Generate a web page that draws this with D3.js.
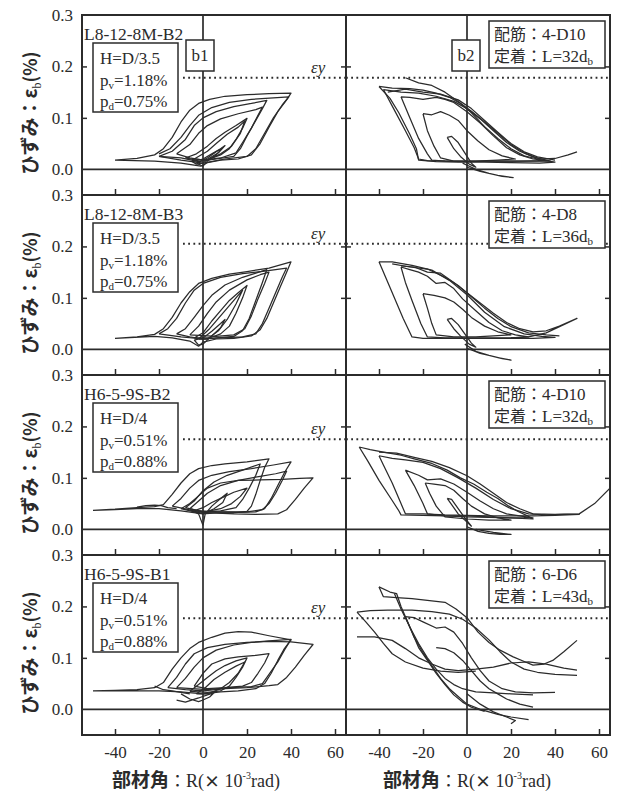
<!DOCTYPE html>
<html>
<head>
<meta charset="utf-8">
<script src="https://cdn.jsdelivr.net/npm/d3@7"></script>
<style>
  body { margin: 0; background: #fff; }
  svg { display: block; }
</style>
</head>
<body>
<svg id="chart" width="622" height="800"></svg>
<script>
// ---- specimen information (one entry per row) ----
const specimens = ["L8-12-8M-B2", "L8-12-8M-B3", "H6-5-9S-B2", "H6-5-9S-B1"];
const heightRatio = ["H=D/3.5", "H=D/3.5", "H=D/4", "H=D/4"];
const pvRatio = ["1.18%", "1.18%", "0.51%", "0.51%"];
const pdRatio = ["0.75%", "0.75%", "0.88%", "0.88%"];
const rebar = ["4-D10", "4-D8", "4-D10", "6-D6"];
const anchorLength = ["32", "36", "32", "43"];
const yieldStrain = [0.178, 0.205, 0.175, 0.177];   // εy (%)
const gaugeNames = ["b1", "b2"];
const xTicks = [-40, -20, 0, 20, 40, 60];
const yTicks = [0.0, 0.1, 0.2, 0.3];
const xDomain = [-55, 65];
const yDomain = [-0.05, 0.3];

// ---- strain histories: [R (x10^-3 rad), strain (%)] ----
const l8B2_b1 = [
  [[-40,0.018],[-30,0.021],[-22,0.028],[-18,0.040],[-14,0.062],[-10,0.092],[-6,0.115],[-2,0.128],[3,0.136],[10,0.142],[20,0.145],[30,0.147],[40,0.148],[38,0.135],[34,0.112],[30,0.082],[26,0.050],[22,0.028],[16,0.020],[8,0.018],[2,0.013],[-1,0.006],[-10,0.012],[-22,0.016],[-40,0.018]],
  [[-20,0.030],[-15,0.040],[-10,0.062],[-6,0.085],[-2,0.105],[4,0.120],[12,0.130],[22,0.136],[32,0.139],[39,0.141],[36,0.125],[32,0.100],[28,0.070],[24,0.040],[20,0.025],[10,0.020],[0,0.012],[-10,0.018],[-20,0.025]],
  [[-20,0.025],[-14,0.035],[-8,0.058],[-4,0.085],[0,0.100],[6,0.112],[14,0.122],[22,0.128],[29,0.134],[27,0.118],[24,0.095],[20,0.065],[17,0.040],[14,0.025],[6,0.020],[-2,0.015],[-10,0.022],[-20,0.025]],
  [[-12,0.030],[-6,0.048],[-2,0.070],[2,0.085],[8,0.098],[16,0.108],[24,0.116],[27,0.121],[25,0.105],[22,0.080],[18,0.052],[15,0.032],[8,0.022],[0,0.018],[-6,0.022],[-12,0.030]],
  [[-8,0.022],[-3,0.030],[2,0.045],[6,0.060],[10,0.072],[15,0.085],[20,0.099],[18,0.080],[15,0.058],[12,0.040],[8,0.028],[3,0.020],[-3,0.018],[-8,0.022]],
  [[-4,0.020],[2,0.035],[6,0.050],[11,0.068],[16,0.082],[19,0.094],[17,0.070],[13,0.045],[8,0.030],[2,0.018],[-4,0.020]],
  [[-5,0.015],[0,0.020],[4,0.030],[8,0.040],[10,0.046],[7,0.032],[3,0.022],[0,0.012],[-3,0.010],[-5,0.015]],
  [[-3,0.012],[2,0.022],[6,0.034],[9,0.042],[6,0.028],[2,0.016],[0,0.006],[-3,0.012]]
];
const l8B2_b2 = [
  [[-40,0.161],[-34,0.158],[-26,0.157],[-20,0.154],[-14,0.148],[-8,0.140],[-3,0.128],[2,0.110],[8,0.083],[14,0.060],[20,0.040],[26,0.026],[33,0.019],[40,0.014],[33,0.012],[20,0.013],[8,0.014],[-4,0.014],[-14,0.015],[-22,0.018],[-23,0.040],[-26,0.068],[-31,0.110],[-35,0.138],[-40,0.161]],
  [[-28,0.178],[-22,0.168],[-16,0.163],[-10,0.150],[-4,0.132],[2,0.113],[8,0.092],[14,0.070],[20,0.048],[26,0.032],[33,0.020],[40,0.021],[46,0.028],[50,0.034]],
  [[-38,0.155],[-30,0.150],[-22,0.148],[-14,0.142],[-6,0.132],[0,0.118],[6,0.098],[12,0.075],[18,0.052],[24,0.035],[30,0.024],[38,0.016],[30,0.016],[18,0.016],[6,0.016],[-6,0.016],[-18,0.017],[-22,0.020],[-24,0.042],[-28,0.075],[-33,0.115],[-38,0.155]],
  [[-36,0.150],[-28,0.156],[-20,0.150],[-12,0.146],[-4,0.135],[2,0.118],[8,0.095],[14,0.072],[20,0.050],[26,0.034],[32,0.024],[40,0.018]],
  [[-30,0.141],[-26,0.140],[-20,0.136],[-14,0.140],[-10,0.136],[-6,0.130],[0,0.112],[6,0.090],[12,0.065],[18,0.042],[24,0.028],[30,0.020],[36,0.017],[24,0.016],[10,0.016],[0,0.015],[-10,0.016],[-16,0.018],[-18,0.030],[-22,0.060],[-26,0.100],[-30,0.141]],
  [[-20,0.108],[-16,0.106],[-12,0.112],[-8,0.105],[-4,0.095],[0,0.075],[5,0.055],[10,0.038],[16,0.026],[22,0.020],[14,0.018],[4,0.016],[-6,0.016],[-12,0.022],[-15,0.045],[-18,0.075],[-20,0.108]],
  [[-9,0.062],[-7,0.064],[-4,0.052],[-1,0.032],[2,0.012],[4,0.004],[1,0.010],[-3,0.025],[-6,0.040],[-9,0.062]],
  [[-2,0.012],[4,0.000],[10,-0.008],[16,-0.014],[21,-0.016],[14,-0.012],[6,-0.004],[0,0.004]]
];
const l8B3_b1 = [
  [[-40,0.021],[-30,0.024],[-22,0.029],[-18,0.040],[-14,0.062],[-10,0.090],[-6,0.112],[-2,0.128],[4,0.138],[12,0.146],[20,0.151],[30,0.158],[36,0.165],[40,0.170],[38,0.150],[35,0.120],[32,0.090],[29,0.060],[26,0.038],[22,0.026],[14,0.021],[6,0.020],[0,0.014],[-2,0.006],[-6,0.016],[-14,0.022],[-22,0.025],[-40,0.021]],
  [[-20,0.030],[-16,0.040],[-12,0.060],[-8,0.090],[-4,0.115],[0,0.128],[8,0.140],[18,0.147],[28,0.152],[38,0.158],[36,0.140],[33,0.110],[30,0.080],[27,0.050],[24,0.030],[18,0.024],[8,0.022],[0,0.020],[-10,0.024],[-20,0.030]],
  [[-12,0.030],[-8,0.040],[-4,0.062],[0,0.085],[4,0.105],[10,0.125],[18,0.140],[24,0.148],[29,0.155],[27,0.130],[24,0.095],[21,0.060],[18,0.036],[14,0.025],[6,0.022],[0,0.020],[-6,0.024],[-12,0.030]],
  [[-6,0.028],[-2,0.045],[2,0.070],[6,0.092],[12,0.115],[20,0.135],[26,0.145],[30,0.150],[28,0.128],[25,0.098],[22,0.065],[19,0.040],[14,0.028],[6,0.025],[-6,0.028]],
  [[-4,0.022],[0,0.032],[4,0.055],[8,0.075],[12,0.095],[16,0.110],[20,0.124],[18,0.100],[15,0.070],[12,0.045],[8,0.030],[3,0.022],[-4,0.022]],
  [[-2,0.020],[3,0.040],[7,0.060],[11,0.080],[15,0.100],[18,0.115],[15,0.088],[11,0.058],[7,0.036],[2,0.020],[-2,0.020]],
  [[-4,0.018],[0,0.022],[4,0.035],[8,0.050],[10,0.058],[8,0.042],[4,0.026],[0,0.010],[-2,0.008],[-4,0.018]]
];
const l8B3_b2 = [
  [[-40,0.170],[-34,0.170],[-25,0.163],[-16,0.154],[-8,0.134],[0,0.106],[8,0.072],[17,0.044],[26,0.030],[34,0.025],[40,0.023],[30,0.021],[20,0.021],[10,0.021],[0,0.021],[-10,0.021],[-20,0.021],[-25,0.024],[-29,0.060],[-35,0.120],[-40,0.170]],
  [[-30,0.162],[-24,0.160],[-18,0.150],[-12,0.148],[-6,0.130],[0,0.110],[6,0.090],[12,0.070],[18,0.052],[24,0.040],[30,0.034],[36,0.036],[42,0.045],[50,0.060],[44,0.048],[36,0.032],[28,0.024],[20,0.022]],
  [[-34,0.166],[-26,0.160],[-18,0.156],[-10,0.140],[-4,0.124],[2,0.102],[8,0.080],[14,0.060],[20,0.044],[28,0.032],[36,0.028],[42,0.026]],
  [[-30,0.160],[-26,0.155],[-22,0.150],[-18,0.142],[-14,0.128],[-10,0.130],[-6,0.118],[-2,0.098],[4,0.075],[10,0.052],[16,0.036],[22,0.028],[28,0.024],[20,0.022],[10,0.022],[0,0.022],[-10,0.022],[-18,0.024],[-21,0.050],[-25,0.095],[-28,0.130],[-30,0.160]],
  [[-20,0.108],[-15,0.105],[-10,0.100],[-6,0.092],[-2,0.078],[2,0.062],[8,0.045],[14,0.034],[20,0.028],[12,0.026],[4,0.024],[-6,0.024],[-14,0.028],[-16,0.050],[-18,0.080],[-20,0.108]],
  [[-9,0.058],[-7,0.060],[-4,0.048],[-1,0.030],[2,0.012],[4,0.004],[1,0.010],[-3,0.026],[-6,0.040],[-9,0.058]],
  [[-1,0.010],[4,-0.004],[10,-0.012],[16,-0.018],[20,-0.021],[14,-0.016],[6,-0.008],[0,0.002]]
];
const h6B2_b1 = [
  [[-50,0.037],[-40,0.039],[-30,0.042],[-22,0.044],[-18,0.048],[-14,0.068],[-10,0.090],[-6,0.108],[-2,0.118],[4,0.124],[10,0.127],[20,0.131],[30,0.137],[28,0.120],[26,0.095],[24,0.068],[22,0.045],[20,0.035],[14,0.032],[6,0.032],[0,0.030],[-10,0.036],[-20,0.040],[-30,0.040],[-40,0.038],[-50,0.037]],
  [[-10,0.040],[-6,0.050],[-2,0.065],[2,0.080],[8,0.090],[16,0.095],[26,0.096],[36,0.097],[44,0.099],[50,0.100],[46,0.080],[42,0.058],[38,0.038],[34,0.030],[24,0.029],[14,0.030],[4,0.032],[-4,0.034],[-10,0.040]],
  [[-14,0.045],[-10,0.060],[-6,0.080],[-2,0.095],[4,0.105],[12,0.112],[22,0.118],[32,0.125],[40,0.131],[37,0.110],[34,0.085],[31,0.060],[28,0.040],[24,0.034],[16,0.033],[6,0.034],[-4,0.036],[-14,0.045]],
  [[-6,0.040],[-2,0.055],[2,0.070],[8,0.085],[16,0.095],[26,0.103],[33,0.108],[38,0.113],[36,0.095],[33,0.070],[30,0.050],[27,0.038],[20,0.034],[10,0.034],[0,0.034],[-6,0.040]],
  [[-8,0.042],[-4,0.055],[0,0.075],[5,0.092],[11,0.105],[18,0.115],[26,0.127],[24,0.105],[21,0.080],[18,0.058],[15,0.042],[8,0.036],[0,0.034],[-8,0.042]],
  [[-4,0.036],[0,0.042],[4,0.052],[9,0.062],[14,0.072],[20,0.080],[17,0.064],[13,0.050],[8,0.040],[2,0.035],[-4,0.036]],
  [[-6,0.038],[-2,0.030],[0,0.008],[1,0.030],[4,0.045],[8,0.060],[11,0.070],[9,0.052],[5,0.040],[0,0.030],[-6,0.038]],
  [[-30,0.043],[-26,0.046],[-22,0.047],[-19,0.046],[-16,0.042],[-12,0.040]]
];
const h6B2_b2 = [
  [[-49,0.160],[-44,0.155],[-38,0.150],[-30,0.144],[-24,0.137],[-16,0.128],[-9,0.115],[-3,0.100],[3,0.088],[9,0.072],[14,0.060],[19,0.045],[23,0.035],[28,0.025],[30,0.020],[20,0.022],[10,0.024],[0,0.026],[-10,0.026],[-20,0.027],[-30,0.028],[-31,0.036],[-34,0.056],[-40,0.095],[-45,0.132],[-49,0.160]],
  [[-40,0.150],[-32,0.148],[-24,0.140],[-16,0.132],[-8,0.120],[0,0.104],[6,0.088],[12,0.070],[18,0.052],[24,0.040],[30,0.030],[40,0.029],[51,0.030],[58,0.050],[65,0.080]],
  [[-40,0.143],[-34,0.138],[-28,0.135],[-20,0.130],[-12,0.118],[-4,0.100],[4,0.080],[12,0.058],[20,0.040],[28,0.030],[36,0.028],[44,0.029],[51,0.029],[40,0.027],[30,0.026],[20,0.026],[10,0.026],[0,0.027],[-10,0.028],[-20,0.030],[-28,0.030],[-30,0.050],[-34,0.090],[-38,0.125],[-40,0.143]],
  [[-28,0.115],[-22,0.105],[-18,0.096],[-12,0.098],[-6,0.088],[0,0.072],[6,0.055],[12,0.040],[18,0.030],[24,0.026],[30,0.022],[20,0.022],[10,0.023],[0,0.024],[-10,0.026],[-18,0.030],[-20,0.050],[-24,0.085],[-28,0.115]],
  [[-19,0.090],[-15,0.088],[-10,0.085],[-6,0.076],[-2,0.060],[2,0.045],[8,0.030],[14,0.022],[20,0.018],[10,0.018],[0,0.020],[-10,0.024],[-14,0.045],[-17,0.070],[-19,0.090]],
  [[-9,0.060],[-7,0.058],[-4,0.040],[-1,0.022],[2,0.006],[0,0.014],[-4,0.030],[-9,0.060]],
  [[0,0.005],[5,-0.004],[10,-0.008],[15,-0.010],[20,-0.010],[12,-0.006],[4,0.000]]
];
const h6B1_b1 = [
  [[-50,0.036],[-40,0.037],[-30,0.038],[-22,0.042],[-18,0.052],[-14,0.078],[-10,0.100],[-6,0.118],[-2,0.130],[4,0.140],[10,0.148],[16,0.151],[22,0.150],[30,0.143],[40,0.135],[37,0.118],[34,0.095],[31,0.070],[28,0.050],[24,0.040],[16,0.036],[8,0.034],[0,0.030],[-10,0.034],[-20,0.036],[-30,0.036],[-50,0.036]],
  [[-16,0.042],[-12,0.062],[-8,0.088],[-4,0.108],[2,0.120],[10,0.126],[20,0.130],[30,0.132],[40,0.131],[50,0.126],[46,0.105],[42,0.082],[38,0.062],[34,0.048],[30,0.046],[20,0.042],[10,0.040],[0,0.036],[-8,0.038],[-16,0.042]],
  [[-12,0.042],[-8,0.060],[-4,0.082],[0,0.100],[6,0.115],[14,0.125],[22,0.130],[30,0.133],[40,0.136],[37,0.115],[34,0.092],[30,0.068],[27,0.050],[22,0.044],[12,0.042],[2,0.038],[-12,0.042]],
  [[-4,0.045],[0,0.070],[4,0.088],[10,0.098],[16,0.102],[24,0.105],[30,0.108],[28,0.090],[25,0.070],[22,0.052],[18,0.045],[10,0.042],[2,0.040],[-4,0.045]],
  [[-6,0.035],[-2,0.048],[2,0.062],[6,0.075],[10,0.085],[15,0.094],[20,0.100],[18,0.082],[15,0.062],[12,0.045],[8,0.036],[2,0.033],[-6,0.035]],
  [[-3,0.030],[1,0.042],[5,0.058],[10,0.072],[15,0.084],[19,0.092],[16,0.070],[12,0.052],[8,0.040],[2,0.030],[-3,0.030]],
  [[-10,0.030],[-6,0.020],[-2,0.015],[0,0.018],[3,0.024],[5,0.032],[2,0.028],[-2,0.022],[-8,0.014],[-12,0.018]],
  [[-22,0.045],[-18,0.038],[-14,0.036],[-10,0.033],[-6,0.030]]
];
const h6B1_b2 = [
  [[-40,0.238],[-35,0.228],[-32,0.225],[-30,0.200],[-27,0.170],[-24,0.140],[-20,0.110],[-16,0.085],[-12,0.060],[-8,0.040],[-4,0.025],[0,0.010],[6,0.000],[14,-0.010],[20,-0.015],[28,-0.020]],
  [[-40,0.238],[-38,0.219],[-32,0.217],[-25,0.215],[-18,0.212],[-10,0.208],[-5,0.195],[0,0.178],[5,0.150],[10,0.130],[15,0.115],[21,0.102],[26,0.093],[30,0.086],[35,0.088],[39,0.095],[44,0.112],[50,0.134]],
  [[-50,0.189],[-44,0.192],[-36,0.193],[-25,0.193],[-16,0.190],[-8,0.185],[-2,0.175],[4,0.158],[10,0.135],[15,0.112],[20,0.092],[26,0.078],[32,0.072],[40,0.068],[50,0.066]],
  [[-50,0.141],[-42,0.141],[-34,0.134],[-28,0.118],[-22,0.100],[-16,0.088],[-10,0.078],[-4,0.075],[4,0.078],[12,0.082],[20,0.090],[28,0.092],[36,0.088],[44,0.080],[50,0.076]],
  [[-50,0.189],[-46,0.170],[-42,0.150],[-38,0.128],[-34,0.108],[-28,0.092],[-20,0.080],[-12,0.074],[-4,0.072],[4,0.074]],
  [[-33,0.225],[-30,0.195],[-26,0.160],[-22,0.128],[-18,0.100],[-14,0.078],[-10,0.060],[-6,0.048],[-2,0.040],[4,0.034],[12,0.032],[20,0.030],[30,0.028]],
  [[-28,0.180],[-24,0.178],[-20,0.170],[-14,0.158],[-10,0.160],[-6,0.150],[-2,0.128],[2,0.100],[6,0.075],[10,0.055],[16,0.040],[22,0.034],[30,0.032],[40,0.033]],
  [[-28,0.180],[-25,0.150],[-22,0.120],[-18,0.095],[-14,0.070],[-10,0.048],[-6,0.028],[-2,0.014],[2,0.004],[8,-0.004]],
  [[-14,0.120],[-10,0.118],[-6,0.110],[-2,0.095],[2,0.075],[6,0.055],[10,0.040],[14,0.030],[18,0.020],[24,0.010],[30,0.004]],
  [[0,0.030],[6,0.010],[12,-0.005],[18,-0.015],[22,-0.022],[20,-0.028]]
];

const loops = [
  [l8B2_b1, l8B2_b2],
  [l8B3_b1, l8B3_b2],
  [h6B2_b1, h6B2_b2],
  [h6B1_b1, h6B1_b2]
];

// ---- drawing ----
const svg = d3.select("#chart");
const ink = "#2b2b2b";
const serif = "'Liberation Serif','Times New Roman',serif";
const cjk = "'Noto Sans CJK JP','Noto Sans',sans-serif";

const frameLeft = 82, panelW = 264, frameTop = 15, rowH = 180;
const nRows = specimens.length;

const defs = svg.append("defs");

function styleAxis(g) {
  g.select(".domain").remove();
  g.selectAll(".tick line").attr("stroke", ink).attr("stroke-width", 1.5);
  g.selectAll(".tick text").attr("fill", ink).attr("font-family", serif).attr("font-size", 17);
}

for (let r = 0; r < nRows; r++) {
  const top = frameTop + r * rowH;
  const y = d3.scaleLinear().domain(yDomain).range([top + rowH, top]);
  const row = svg.append("g").attr("class", "row");

  const boxRight = frameLeft + 11 + 85;   // right edge of the parameter box

  for (let c = 0; c < 2; c++) {
    const x0 = frameLeft + c * panelW;
    const x = d3.scaleLinear().domain(xDomain).range([x0, x0 + panelW]);
    const clipId = `clip-${r}-${c}`;
    defs.append("clipPath").attr("id", clipId)
      .append("rect").attr("x", x0).attr("y", top).attr("width", panelW).attr("height", rowH);

    const panel = row.append("g");

    // strain histories
    const line = d3.line().x(d => x(d[0])).y(d => y(d[1]));
    panel.append("g").attr("clip-path", `url(#${clipId})`)
      .selectAll("path").data(loops[r][c]).join("path")
      .attr("d", line)
      .attr("fill", "none")
      .attr("stroke", ink)
      .attr("stroke-width", 1.25)
      .attr("stroke-linejoin", "round");

    // zero reference lines
    panel.append("line")
      .attr("x1", x0).attr("x2", x0 + panelW)
      .attr("y1", y(0)).attr("y2", y(0))
      .attr("stroke", ink).attr("stroke-width", 1.7);
    panel.append("line")
      .attr("x1", x(0)).attr("x2", x(0))
      .attr("y1", top).attr("y2", top + rowH)
      .attr("stroke", ink).attr("stroke-width", 1.7);

    // yield strain
    panel.append("line")
      .attr("x1", c === 0 ? boxRight + 5 : x0).attr("x2", x0 + panelW)
      .attr("y1", y(yieldStrain[r])).attr("y2", y(yieldStrain[r]))
      .attr("stroke", ink).attr("stroke-width", 2)
      .attr("stroke-dasharray", "1.8,3.4");

    // inward ticks
    panel.append("g").attr("transform", `translate(0,${top + rowH})`)
      .call(d3.axisBottom(x).tickValues(xTicks.filter(v => v !== 0)).tickSize(-6).tickFormat(""))
      .call(styleAxis);
    panel.append("g").attr("transform", `translate(${x0},0)`)
      .call(d3.axisLeft(y).tickValues(yTicks.filter(v => v > 0 && v < 0.3)).tickSize(-5).tickFormat(""))
      .call(styleAxis);
    panel.append("g").attr("transform", `translate(${x0 + panelW},0)`)
      .call(d3.axisRight(y).tickValues(yTicks.filter(v => v > 0 && v < 0.3)).tickSize(-5).tickFormat(""))
      .call(styleAxis);

    // x tick labels on the bottom row
    if (r === nRows - 1) {
      panel.append("g").attr("transform", `translate(0,${top + rowH})`)
        .call(d3.axisBottom(x).tickValues(xTicks).tickSize(0).tickPadding(11).tickFormat(d => String(d)))
        .call(styleAxis);
    }

    // gauge tag on the first row
    if (r === 0) {
      const tx = c === 0 ? x(0) - 17 : x(0) - 15;
      const tag = panel.append("g").attr("transform", `translate(${tx},${top + 25})`);
      tag.append("rect").attr("width", 28).attr("height", 31)
        .attr("fill", "#fff").attr("stroke", ink).attr("stroke-width", 1.5);
      tag.append("text").attr("x", 14).attr("y", 21).attr("text-anchor", "middle")
        .attr("font-family", serif).attr("font-size", 17).attr("fill", ink)
        .text(gaugeNames[c]);
    }
  }

  // y tick labels
  svg.append("g").attr("transform", `translate(${frameLeft},0)`)
    .call(d3.axisLeft(y).tickValues(yTicks).tickSize(0).tickPadding(9).tickFormat(d3.format(".1f")))
    .call(styleAxis);

  // εy label
  svg.append("text").attr("x", 311).attr("y", y(yieldStrain[r]) - 5)
    .attr("font-family", serif).attr("font-style", "italic").attr("font-size", 17).attr("fill", ink)
    .text("εy");

  // specimen name
  svg.append("text").attr("x", 84).attr("y", top + 25)
    .attr("font-family", serif).attr("font-size", 17.5).attr("fill", ink)
    .text(specimens[r]);

  // parameter box
  const pb = svg.append("g").attr("transform", `translate(${frameLeft + 11},${top + 28})`);
  pb.append("rect").attr("width", 85).attr("height", 69)
    .attr("fill", "#fff").attr("stroke", ink).attr("stroke-width", 1.5);
  pb.append("text").attr("x", 7).attr("y", 21)
    .attr("font-family", serif).attr("font-size", 17).attr("fill", ink).text(heightRatio[r]);
  const t2 = pb.append("text").attr("x", 7).attr("y", 43)
    .attr("font-family", serif).attr("font-size", 17).attr("fill", ink);
  t2.append("tspan").text("p");
  t2.append("tspan").attr("font-size", 11).attr("dy", 3).text("v");
  t2.append("tspan").attr("dy", -3).text("=" + pvRatio[r]);
  const t3 = pb.append("text").attr("x", 7).attr("y", 64)
    .attr("font-family", serif).attr("font-size", 17).attr("fill", ink);
  t3.append("tspan").text("p");
  t3.append("tspan").attr("font-size", 11).attr("dy", 3).text("d");
  t3.append("tspan").attr("dy", -3).text("=" + pdRatio[r]);

  // reinforcement box
  const rb = svg.append("g").attr("transform", `translate(489,${top + 6})`);
  rb.append("rect").attr("width", 116).attr("height", 47)
    .attr("fill", "#fff").attr("stroke", ink).attr("stroke-width", 1.5);
  const r1 = rb.append("text").attr("x", 5).attr("y", 19).attr("fill", ink);
  r1.append("tspan").attr("font-family", cjk).attr("font-size", 16).text("配筋：");
  r1.append("tspan").attr("font-family", serif).attr("font-size", 17).text(rebar[r]);
  const r2 = rb.append("text").attr("x", 5).attr("y", 41).attr("fill", ink);
  r2.append("tspan").attr("font-family", cjk).attr("font-size", 16).text("定着：");
  r2.append("tspan").attr("font-family", serif).attr("font-size", 17).text("L=" + anchorLength[r] + "d");
  r2.append("tspan").attr("font-family", serif).attr("font-size", 11).attr("dy", 3).text("b");

  // frame
  svg.append("rect").attr("x", frameLeft).attr("y", top).attr("width", 2 * panelW).attr("height", rowH)
    .attr("fill", "none").attr("stroke", ink).attr("stroke-width", 2);
  svg.append("line").attr("x1", frameLeft + panelW).attr("x2", frameLeft + panelW)
    .attr("y1", top).attr("y2", top + rowH).attr("stroke", ink).attr("stroke-width", 2);

  // y axis title
  const yt = svg.append("text")
    .attr("transform", `translate(37,${top + 98}) rotate(-90)`)
    .attr("text-anchor", "middle").attr("fill", ink);
  yt.append("tspan").attr("font-family", cjk).attr("font-weight", 700).attr("font-size", 19).text("ひずみ：ε");
  yt.append("tspan").attr("font-family", serif).attr("font-size", 12).attr("dy", 4).text("b");
  yt.append("tspan").attr("font-family", cjk).attr("font-weight", 700).attr("font-size", 18).attr("dy", -4).text("(%)");
}

// x axis titles
[196, 467].forEach(cx => {
  const t = svg.append("text").attr("x", cx).attr("y", 787).attr("text-anchor", "middle").attr("fill", ink);
  t.append("tspan").attr("font-family", cjk).attr("font-weight", 700).attr("font-size", 19).text("部材角");
  t.append("tspan").attr("font-family", cjk).attr("font-size", 17).text("：");
  t.append("tspan").attr("font-family", serif).attr("font-size", 18).text("R(");
  t.append("tspan").attr("font-family", cjk).attr("font-weight", 700).attr("font-size", 16).text("×");
  t.append("tspan").attr("font-family", serif).attr("font-size", 18).text(" 10");
  t.append("tspan").attr("font-family", serif).attr("font-size", 10).attr("dy", -8).text("-3");
  t.append("tspan").attr("font-family", serif).attr("font-size", 18).attr("dy", 8).text("rad)");
});
</script>
</body>
</html>
